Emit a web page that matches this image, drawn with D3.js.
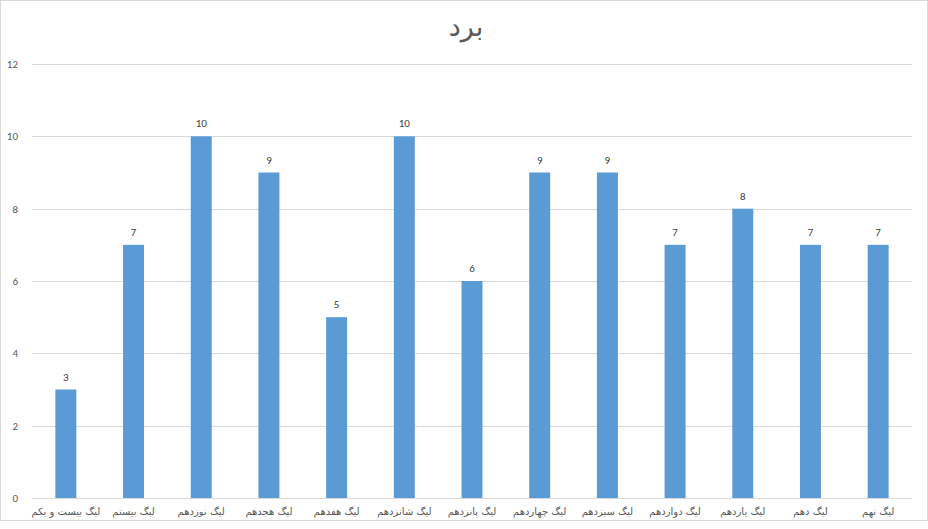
<!DOCTYPE html>
<html>
<head>
<meta charset="utf-8">
<script src="https://cdn.jsdelivr.net/npm/d3@7"></script>
<style>
  body { margin: 0; background: #fff; }
  svg { display: block; }
</style>
</head>
<body>
<div id="wrapper"></div>
<script>
const leagues = ["لیگ بیست و یکم", "لیگ بیستم", "لیگ نوزدهم", "لیگ هجدهم", "لیگ هفدهم", "لیگ شانزدهم", "لیگ پانزدهم", "لیگ چهاردهم", "لیگ سیزدهم", "لیگ دوازدهم", "لیگ یازدهم", "لیگ دهم", "لیگ نهم"];
const wins = [3, 7, 10, 9, 5, 10, 6, 9, 9, 7, 8, 7, 7];
const yTicks = [0, 2, 4, 6, 8, 10, 12];
const title = "برد";

function drawChart() {
    const dimensions = {
        width: 928,
        height: 529,
        margin: { top: 64, right: 16, bottom: 31, left: 32 }
    };
    dimensions.boundedWidth = dimensions.width - dimensions.margin.left - dimensions.margin.right;
    dimensions.boundedHeight = dimensions.height - dimensions.margin.top - dimensions.margin.bottom;

    const wrapper = d3.select("#wrapper")
        .append("svg")
        .attr("width", dimensions.width)
        .attr("height", dimensions.height);

    // outer chart border
    wrapper.append("rect")
        .attr("x", 0.5).attr("y", 0.5)
        .attr("width", dimensions.width - 1)
        .attr("height", 520)
        .attr("fill", "#fff")
        .attr("stroke", "#D9D9D9");

    wrapper.append("text")
        .attr("x", dimensions.width / 2 + 2)
        .attr("y", 36)
        .attr("text-anchor", "middle")
        .style("font-family", "'DejaVu Sans', 'Noto Sans', sans-serif")
        .style("font-size", "27px")
        .style("fill", "#595959")
        .text(title);

    const bounds = wrapper.append("g")
        .attr("transform", `translate(${dimensions.margin.left},${dimensions.margin.top})`);

    const xScale = d3.scaleBand()
        .domain(leagues)
        .range([0, dimensions.boundedWidth])
        .paddingInner(0.69)
        .paddingOuter(0.345);

    const yScale = d3.scaleLinear()
        .domain([0, 12])
        .range([dimensions.boundedHeight, 0]);

    // gridlines
    bounds.append("g")
        .selectAll("line")
        .data(yTicks)
        .join("line")
        .attr("x1", 0)
        .attr("x2", dimensions.boundedWidth)
        .attr("y1", d => Math.round(yScale(d)) + 0.5)
        .attr("y2", d => Math.round(yScale(d)) + 0.5)
        .attr("stroke", "#D9D9D9");

    const yAxis = d3.axisLeft(yScale)
        .tickValues(yTicks)
        .tickSize(0)
        .tickPadding(14);

    const yAxisGroup = bounds.append("g").call(yAxis);
    yAxisGroup.select(".domain").remove();
    yAxisGroup.selectAll("text")
        .style("font-family", "Calibri, Carlito, 'Liberation Sans', sans-serif")
        .style("font-size", "11px")
        .style("fill", "#595959");

    bounds.append("g")
        .selectAll("rect")
        .data(wins)
        .join("rect")
        .attr("x", (d, i) => xScale(leagues[i]))
        .attr("y", d => yScale(d))
        .attr("width", xScale.bandwidth())
        .attr("height", d => yScale(0) - yScale(d))
        .attr("fill", "#5B9BD5");

    bounds.append("g")
        .selectAll("text")
        .data(wins)
        .join("text")
        .attr("x", (d, i) => xScale(leagues[i]) + xScale.bandwidth() / 2)
        .attr("y", d => yScale(d) - 9)
        .attr("text-anchor", "middle")
        .style("font-family", "Calibri, Carlito, 'Liberation Sans', sans-serif")
        .style("font-size", "11px")
        .style("fill", "#404040")
        .text(d => d);

    const xAxis = d3.axisBottom(xScale)
        .tickSize(0)
        .tickPadding(10);

    const xAxisGroup = bounds.append("g")
        .attr("transform", `translate(0,${dimensions.boundedHeight})`)
        .call(xAxis);
    xAxisGroup.select(".domain").remove();
    xAxisGroup.selectAll("text")
        .attr("direction", "rtl")
        .style("font-family", "'DejaVu Sans', 'Noto Sans', sans-serif")
        .style("font-size", "10px")
        .style("fill", "#595959");
}
drawChart();
</script>
</body>
</html>
